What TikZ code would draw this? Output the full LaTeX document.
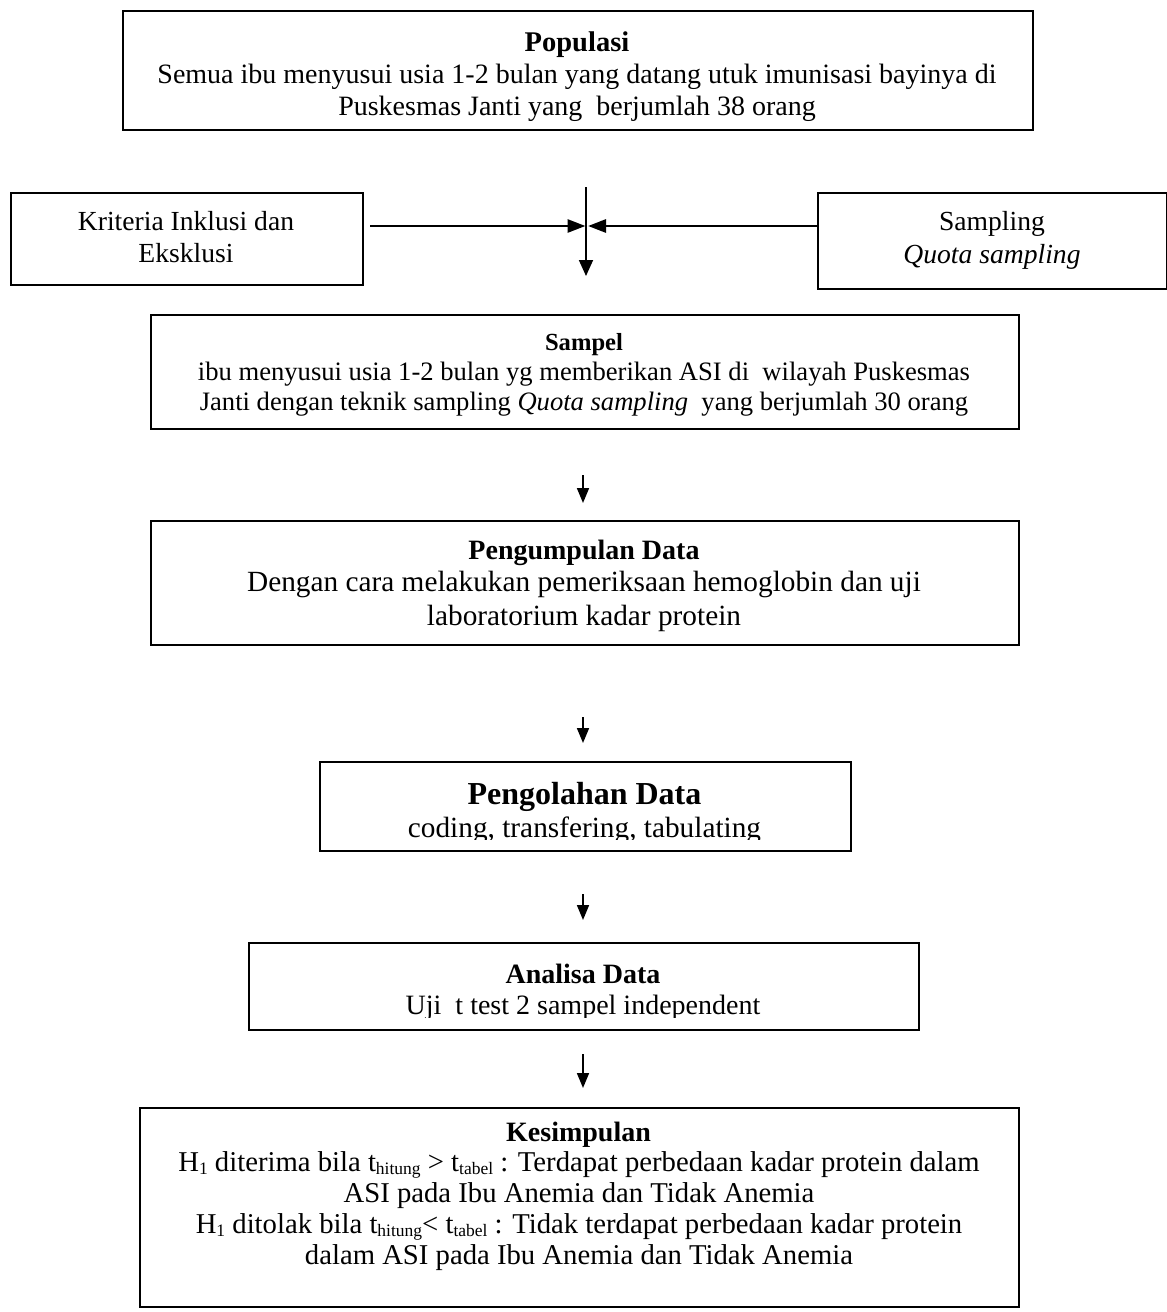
\documentclass[tikz,border=0pt]{standalone}
\usepackage{fontspec}
\setmainfont{Liberation Serif}
\usetikzlibrary{arrows.meta,calc}
\newcommand\lowsub[1]{\raisebox{-3pt}{\fontsize{17.5}{17.5}\selectfont #1}}
\begin{document}
\begin{tikzpicture}[x=1pt,y=-1pt,
  box/.style={draw,line width=2pt,rectangle,inner sep=0pt,anchor=north west},
  txt/.style={anchor=base,inner sep=0pt},
  varr/.style={line width=1.7pt,-{Triangle[length=15pt,width=12pt]}},
  harr/.style={line width=2.8pt,-{Triangle[length=18pt,width=13pt]}},
  vline/.style={line width=1.7pt,-{Triangle[length=16pt,width=14pt]}},
]
\useasboundingbox[fill=white] (0,0) rectangle (1167,1312);

% boxes
\node[box,minimum width=910pt,minimum height=119pt] (pop) at (122,10) {};
\node[box,minimum width=352pt,minimum height=92pt] (krit) at (10,192) {};
\node[box,minimum width=349pt,minimum height=96pt] (samp) at (817,192) {};
\node[box,minimum width=868pt,minimum height=114pt] (sampel) at (150,314) {};
\node[box,minimum width=868pt,minimum height=124pt] (kump) at (150,520) {};
\node[box,minimum width=531pt,minimum height=89pt] (olah) at (319,761) {};
\node[box,minimum width=670pt,minimum height=87pt] (anal) at (248,942) {};
\node[box,minimum width=879pt,minimum height=199pt] (kes) at (139,1107) {};

% texts
\node[txt,font=\fontsize{28.5}{28.5}\selectfont\bfseries] (popT) at (577,51) {Populasi};
\node[txt,font=\fontsize{28}{28}\selectfont] (popA) at (577,83) {Semua ibu menyusui usia 1-2 bulan yang datang utuk imunisasi bayinya di};
\node[txt,font=\fontsize{28}{28}\selectfont] (popB) at (577,115) {Puskesmas Janti yang \ berjumlah 38 orang};

\node[txt,font=\fontsize{27.6}{27.6}\selectfont] (kritA) at (186,230) {Kriteria Inklusi dan};
\node[txt,font=\fontsize{27.6}{27.6}\selectfont] (kritB) at (186,262) {Eksklusi};

\node[txt,font=\fontsize{27.6}{27.6}\selectfont] (sampA) at (992,230) {Sampling};
\node[txt,font=\fontsize{27.6}{27.6}\selectfont\itshape] (sampB) at (992,263) {Quota sampling};

\node[txt,font=\fontsize{24.6}{24.6}\selectfont\bfseries] (sampelT) at (584,350) {Sampel};
\node[txt,font=\fontsize{26.6}{26.6}\selectfont] (sampelA) at (584,380) {ibu menyusui usia 1-2 bulan yg memberikan ASI di \ wilayah Puskesmas};
\node[txt,font=\fontsize{26.6}{26.6}\selectfont] (sampelB) at (584,410) {Janti dengan teknik sampling \textit{Quota sampling} \ yang berjumlah 30 orang};

\node[txt,font=\fontsize{28}{28}\selectfont\bfseries] (kumpT) at (584,559) {Pengumpulan Data};
\node[txt,font=\fontsize{29.3}{29.3}\selectfont] (kumpA) at (584,591) {Dengan cara melakukan pemeriksaan hemoglobin dan uji};
\node[txt,font=\fontsize{29.3}{29.3}\selectfont] (kumpB) at (584,625) {laboratorium kadar protein};

\node[txt,font=\fontsize{32}{32}\selectfont\bfseries] (olahT) at (584.5,804) {Pengolahan Data};
\begin{scope}
  \clip (319,761) rectangle (850,839);
  \node[txt,font=\fontsize{29.3}{29.3}\selectfont] (olahA) at (584.5,837) {coding, transfering, tabulating};
\end{scope}

\node[txt,font=\fontsize{28}{28}\selectfont\bfseries] (analT) at (583,983) {Analisa Data};
\begin{scope}
  \clip (248,942) rectangle (918,1017);
  \node[txt,font=\fontsize{28}{28}\selectfont] (analA) at (583,1014) {Uji \ t test 2 sampel independent};
\end{scope}

\node[txt,font=\fontsize{28}{28}\selectfont\bfseries] (kesT) at (578.5,1141) {Kesimpulan};
\node[txt,font=\fontsize{28.7}{28.7}\selectfont] (kesA) at (579,1171) {H\lowsub{1} diterima bila t\lowsub{hitung} > t\lowsub{tabel} : Terdapat perbedaan kadar protein dalam};
\node[txt,font=\fontsize{28.7}{28.7}\selectfont] (kesB) at (579,1202) {ASI pada Ibu Anemia dan Tidak Anemia};
\node[txt,font=\fontsize{28.7}{28.7}\selectfont] (kesC) at (579,1233) {H\lowsub{1} ditolak bila t\lowsub{hitung}< t\lowsub{tabel} : Tidak terdapat perbedaan kadar protein};
\node[txt,font=\fontsize{28.7}{28.7}\selectfont] (kesD) at (579,1264) {dalam ASI pada Ibu Anemia dan Tidak Anemia};

% connectors
\coordinate (jx) at (586,0);
\coordinate (ax) at (583,0);
\coordinate (jn) at (586,226);
\draw[vline,shorten <=56pt,shorten >=38pt] (pop.south -| jx) -- (sampel.north -| jx);
\draw[harr,shorten <=6pt] (krit.east |- jn) -- ([xshift=-0.5pt]jn);
\draw[harr] (samp.west |- jn) -- ([xshift=2pt]jn);
\draw[varr,shorten <=45pt,shorten >=17pt] (sampel.south -| ax) -- (kump.north -| ax);
\draw[varr,shorten <=71pt,shorten >=18pt] (kump.south -| ax) -- (olah.north -| ax);
\draw[varr,shorten <=42pt,shorten >=22pt] (olah.south -| ax) -- (anal.north -| ax);
\draw[varr,shorten <=23pt,shorten >=19pt] (anal.south -| ax) -- (kes.north -| ax);
\end{tikzpicture}
\end{document}
